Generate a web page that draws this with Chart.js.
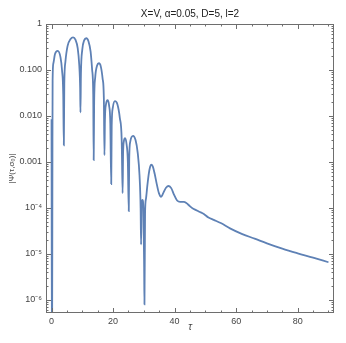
<!DOCTYPE html>
<html>
<head>
<meta charset="utf-8">
<script src="https://cdn.jsdelivr.net/npm/chart.js@4/dist/chart.umd.min.js"></script>
<style>
html,body{margin:0;padding:0;background:#fff;}
canvas{display:block;}
</style>
</head>
<body>
<canvas id="c" width="346" height="343"></canvas>
<script>
// ---- data ----
const tValues = [0, 0.15, 0.3, 0.35, 0.6, 1.1, 2.0, 2.9, 3.4, 3.8, 4.0,
  4.15, 4.5, 5.2, 6.2, 7.0, 7.8, 8.5, 9.0, 9.3, 9.4,
  9.55, 10.0, 10.6, 11.3, 12.0, 12.7, 13.2, 13.55, 13.7,
  13.85, 14.2, 14.8, 15.4, 16.0, 16.6, 17.0, 17.2,
  17.35, 17.7, 18.2, 18.7, 19.1, 19.4,
  19.55, 19.9, 20.6, 21.4, 22.2, 22.8, 23.1,
  23.25, 23.5, 23.9, 24.4, 24.8, 25.1,
  25.25, 25.6, 26.5, 27.3, 28.0, 28.6, 28.95, 29.1,
  29.3, 29.55, 29.85, 30.1, 30.2,
  30.4, 30.7, 31.1, 31.6, 32.0, 32.4, 32.9, 33.5, 34.2, 34.9, 35.6, 36.3, 37.2, 38.1, 38.9, 39.8,
  40.8, 41.8, 43.0, 43.8, 44.8, 45.8, 46.8, 48.0, 49.5, 51.0, 52.7, 55, 58, 62, 66, 70, 75, 80, 85, 90];
const psiValues = [0.0085, 1e-8, 0.003, 0.06, 0.14, 0.22, 0.26, 0.19, 0.10, 0.03, 0.0023,
  0.05, 0.15, 0.33, 0.47, 0.51, 0.45, 0.30, 0.13, 0.04, 0.012,
  0.08, 0.28, 0.44, 0.49, 0.42, 0.25, 0.10, 0.03, 0.0011,
  0.02, 0.07, 0.125, 0.14, 0.12, 0.065, 0.025, 0.0014,
  0.008, 0.018, 0.022, 0.017, 0.007, 0.00033,
  0.006, 0.015, 0.021, 0.018, 0.009, 0.003, 0.00021,
  0.0015, 0.0028, 0.0033, 0.0024, 0.0010, 0.000085,
  0.0012, 0.0028, 0.0037, 0.0030, 0.0016, 0.0005, 0.0001, 0.000016,
  0.00013, 0.00015, 0.0001, 0.000005, 8e-7,
  0.00008, 0.00016, 0.00029, 0.00055, 0.00077, 0.00087, 0.0008, 0.00056, 0.00033, 0.00021, 0.000175, 0.00021, 0.000275, 0.0003, 0.00027, 0.000195,
  0.000145, 0.000135, 0.000135, 0.000128, 0.000112, 0.000098, 0.000091, 0.000083, 0.000074, 0.000062, 0.000055, 0.000047, 0.000036, 0.000027, 0.0000215, 0.000017, 0.000013, 0.0000103, 0.0000083, 0.0000066];
const xTicks = [0, 20, 40, 60, 80];
const xMinorTicks = [5, 10, 15, 25, 30, 35, 45, 50, 55, 65, 70, 75, 85, 90];
const yTicks = [1e-6, 1e-5, 1e-4, 0.001, 0.01, 0.1, 1];
const yTickLabels = ['10\u207B\u2076', '10\u207B\u2075', '10\u207B\u2074', '0.001', '0.010', '0.100', '1'];
const titleText = 'X=V, \u03B1=0.05, D=5, l=2';
const xLabel = '\u03C4';
const yLabel = '|\u03A8(\u03C4,\u03C3\u2080)|';

const xMin = -1.8, xMax = 91.8, yMin = 5.2e-7, yMax = 1;
const lineColor = '#5E81B5';
const frameColor = '#6e6e6e';
const textColor = '#444';
const fontFam = '"Liberation Sans", Arial, sans-serif';

const points = tValues.map((t, i) => ({x: t, y: psiValues[i]}));

const frameTicks = {
  id: 'frameTicks',
  afterDraw(chart) {
    const {ctx, chartArea: {left, right, top, bottom}, scales: {x, y}} = chart;
    ctx.save();
    ctx.strokeStyle = frameColor;
    ctx.lineWidth = 1;
    const seg = (x1, y1, x2, y2) => { ctx.beginPath(); ctx.moveTo(x1, y1); ctx.lineTo(x2, y2); ctx.stroke(); };
    ctx.strokeRect(Math.round(left) + 0.5, Math.round(top) + 0.5, Math.round(right - left) - 1, Math.round(bottom - top) - 1);
    const xt = (v, len) => {
      const px = Math.round(x.getPixelForValue(v)) + 0.5;
      seg(px, bottom, px, bottom - len);
      seg(px, top, px, top + len);
    };
    xTicks.forEach(v => xt(v, 5));
    xMinorTicks.forEach(v => xt(v, 2.5));
    const yt = (v, len) => {
      const py = Math.round(y.getPixelForValue(v)) + 0.5;
      seg(left, py, left + len, py);
      seg(right, py, right - len, py);
    };
    yTicks.forEach(v => yt(v, 5));
    for (let e = -7; e < 0; e++) {
      for (let m = 2; m <= 9; m++) {
        const v = m * Math.pow(10, e);
        if (v > yMin && v < yMax) yt(v, 2.5);
      }
    }
    // title
    ctx.fillStyle = '#222';
    ctx.font = '10px ' + fontFam;
    ctx.textAlign = 'center';
    ctx.textBaseline = 'middle';
    ctx.fillText(titleText, (left + right) / 2, 14);
    ctx.restore();
  }
};

new Chart(document.getElementById('c'), {
  type: 'line',
  data: {
    datasets: [{
      data: points,
      borderColor: lineColor,
      borderWidth: 1.8,
      pointRadius: 0,
      fill: false,
      cubicInterpolationMode: 'monotone'
    }]
  },
  options: {
    responsive: false,
    animation: false,
    devicePixelRatio: 1,
    layout: {padding: {top: 24, right: 12, left: 0, bottom: 0}},
    plugins: {legend: {display: false}, title: {display: false}, tooltip: {enabled: false}},
    scales: {
      x: {
        type: 'linear', min: xMin, max: xMax,
        afterBuildTicks: s => { s.ticks = xTicks.map(v => ({value: v})); },
        afterFit: s => { s.height = 30; },
        grid: {display: false, drawTicks: false},
        border: {display: false},
        ticks: {color: textColor, font: {family: fontFam, size: 9}, padding: 3, maxRotation: 0},
        title: {display: true, text: xLabel, color: textColor, font: {family: fontFam, size: 10, style: 'italic'}, padding: {top: 0, bottom: 10}}
      },
      y: {
        type: 'logarithmic', min: yMin, max: yMax,
        afterBuildTicks: s => { s.ticks = yTicks.map(v => ({value: v})); },
        afterFit: s => { s.width = 46; },
        grid: {display: false, drawTicks: false},
        border: {display: false},
        ticks: {color: textColor, font: {family: fontFam, size: 9}, padding: 4,
          callback: (v) => { const i = yTicks.findIndex(t => Math.abs(t - v) / t < 1e-6); return i >= 0 ? yTickLabels[i] : ''; }},
        title: {display: true, text: yLabel, color: textColor, font: {family: fontFam, size: 8}, padding: {top: 7, bottom: 0}}
      }
    }
  },
  plugins: [frameTicks]
});
</script>
</body>
</html>
